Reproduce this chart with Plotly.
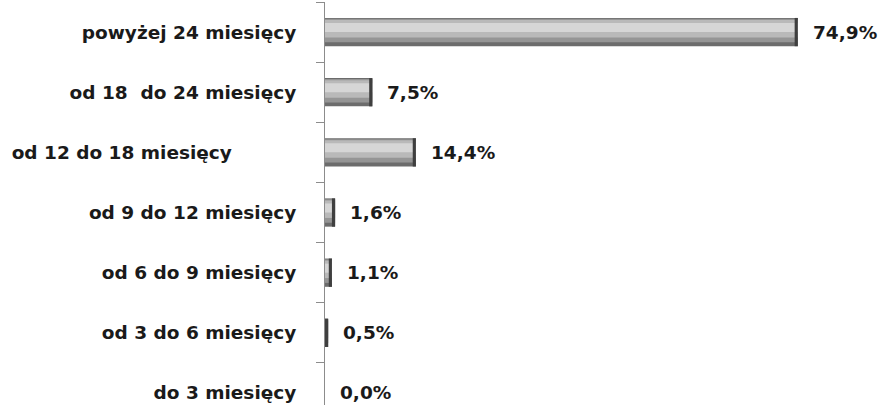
import plotly.graph_objects as go

# okres (od dołu do góry) i udział w %
categories = [
    "do 3 miesięcy",
    "od 3 do 6 miesięcy",
    "od 6 do 9 miesięcy",
    "od 9 do 12 miesięcy",
    "od 12 do 18 miesięcy" + "\u00a0" * 10,
    "od 18\u00a0 do 24 miesięcy",
    "powyżej 24 miesięcy",
]
values = [0.0, 0.5, 1.1, 1.6, 14.4, 7.5, 74.9]

value_labels = [f"{v:.1f}".replace(".", ",") + "%" for v in values]

FONT = "DejaVu Sans"
FS = 18.5

fig = go.Figure()

# warstwy dające efekt wypukłego (fazowanego) paska
layers = [
    (-0.235, 0.47, "#6c6c6c"),
    (-0.17, 0.39, "#959595"),
    (-0.09, 0.29, "#b9b9b9"),
    (0.0, 0.15, "#d6d6d6"),
]
for off, w, col in layers:
    fig.add_trace(go.Bar(
        x=values, y=categories, orientation="h",
        offset=off, width=w,
        marker=dict(color=col, line=dict(width=0)),
        hoverinfo="skip", showlegend=False,
    ))

# ciemna końcówka paska
cap = [min(0.5, v) for v in values]
fig.add_trace(go.Bar(
    x=cap, y=categories, base=[v - c for v, c in zip(values, cap)],
    orientation="h", offset=-0.235, width=0.47,
    marker=dict(color="#3f3f3f", line=dict(width=0)),
    hoverinfo="skip", showlegend=False,
))

for v, c, t in zip(values, categories, value_labels):
    fig.add_annotation(
        x=v, y=c, text=t, showarrow=False,
        xanchor="left", yanchor="middle", xshift=13,
        font=dict(family=FONT, size=FS, color="#1a1a1a", weight="bold"),
    )

fig.update_layout(
    width=880, height=405,
    barmode="overlay",
    margin=dict(l=325, r=50, t=2, b=0),
    plot_bgcolor="white", paper_bgcolor="white",
    font=dict(family=FONT, size=FS, color="#1a1a1a"),
    xaxis=dict(range=[0, 80], visible=False, fixedrange=True),
    yaxis=dict(
        type="category",
        categoryorder="array", categoryarray=categories,
        range=[-0.2, 6.5],
        showline=True, linecolor="#8c8c8c", linewidth=1,
        ticks="outside", tickson="boundaries", ticklen=8, tickcolor="#8c8c8c",
        ticklabelstandoff=24,
        tickfont=dict(family=FONT, size=FS, color="#1a1a1a", weight="bold"),
        showgrid=False, zeroline=False, fixedrange=True,
    ),
)

fig.write_html(
    "out.html",
    config={"displayModeBar": False},
    post_script="document.body.style.margin='0';",
)
